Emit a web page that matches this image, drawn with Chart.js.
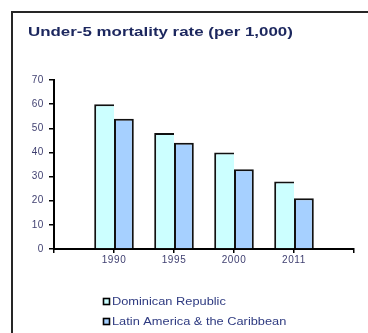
<!DOCTYPE html>
<html>
<head>
<meta charset="utf-8">
<script src="https://cdn.jsdelivr.net/npm/chart.js@4.4.1/dist/chart.umd.min.js"></script>
<style>
  html, body { margin: 0; padding: 0; background: #ffffff; }
  #wrap { width: 368px; height: 333px; position: relative; }
</style>
</head>
<body>
<div id="wrap"><canvas id="chart" width="368" height="333"></canvas></div>
<script>
// Chart text and data
const titleText = 'Under-5 mortality rate (per 1,000)';
const years = ['', '1990', '1995', '2000', '2011', ''];
const seriesNames = ['Dominican Republic', 'Latin America & the Caribbean'];
const dominicanRepublic = [null, 60, 48, 40, 28, null];
const latinAmerica = [null, 54, 44, 33, 21, null];
const yMin = 0;
const yMax = 70;
const yStep = 10;

const FONT = '"Liberation Sans", Arial, Helvetica, sans-serif';

// Frame, title and the stacked legend drawn on the canvas
const decorPlugin = {
  id: 'decor',
  beforeDraw(chart) {
    const ctx = chart.ctx;
    ctx.save();
    ctx.strokeStyle = '#262626';
    ctx.lineWidth = 2;
    ctx.strokeRect(12, 12, 380, 360);
    ctx.restore();
    // slightly wider axis lettering
    ctx.letterSpacing = '0.6px';
  },
  afterDraw(chart) {
    const ctx = chart.ctx;
    ctx.save();
    ctx.letterSpacing = '0px';
    ctx.textBaseline = 'middle';
    ctx.fillStyle = '#1c275e';
    ctx.font = 'bold 13px ' + FONT;
    ctx.translate(28, 32);
    ctx.scale(1.3, 1);
    ctx.fillText(titleText, 0, 0);
    ctx.restore();

    chart.data.datasets.forEach((ds, i) => {
      const y = 302 + i * 20;
      ctx.save();
      ctx.letterSpacing = '0px';
      ctx.fillStyle = ds.backgroundColor;
      ctx.fillRect(103.5, y - 3.5, 6, 6);
      ctx.strokeStyle = '#000000';
      ctx.lineWidth = 1.6;
      ctx.strokeRect(103.5, y - 3.5, 6, 6);
      ctx.fillStyle = '#2e3a80';
      ctx.font = '10px ' + FONT;
      ctx.textBaseline = 'middle';
      ctx.translate(112, y);
      ctx.scale(1.28, 1);
      ctx.fillText(ds.label, 0, 0);
      ctx.restore();
    });
  }
};

const tickFont = { family: FONT, size: 10 };

new Chart(document.getElementById('chart'), {
  type: 'bar',
  data: {
    labels: years,
    datasets: [
      {
        label: seriesNames[0],
        data: dominicanRepublic,
        backgroundColor: '#ccffff',
        borderColor: '#111111',
        borderWidth: { top: 2, left: 2, right: 0, bottom: 0 },
        barPercentage: 1,
        categoryPercentage: 0.66
      },
      {
        label: seriesNames[1],
        data: latinAmerica,
        backgroundColor: '#a6d0ff',
        borderColor: '#111111',
        borderWidth: { top: 2, left: 2, right: 2, bottom: 0 },
        barPercentage: 1,
        categoryPercentage: 0.66
      }
    ]
  },
  options: {
    responsive: false,
    animation: false,
    devicePixelRatio: 1,
    layout: { padding: { top: 80, right: 14, bottom: 64, left: 0 } },
    plugins: {
      legend: { display: false },
      title: { display: false },
      tooltip: { enabled: false }
    },
    scales: {
      x: {
        type: 'category',
        offset: false,
        grid: {
          display: true,
          offset: false,
          drawOnChartArea: false,
          drawTicks: true,
          tickLength: 4,
          color: '#000000',
          lineWidth: 1.5
        },
        border: { display: true, color: '#000000', width: 2 },
        ticks: {
          color: '#3f3f70',
          font: tickFont,
          padding: 1,
          maxRotation: 0,
          autoSkip: false
        },
        afterFit(scale) { scale.height = 20; }
      },
      y: {
        min: yMin,
        max: yMax,
        grid: {
          display: true,
          drawOnChartArea: false,
          drawTicks: true,
          tickLength: 5,
          color: '#000000',
          lineWidth: 1.5
        },
        border: { display: true, color: '#000000', width: 2 },
        ticks: {
          stepSize: yStep,
          color: '#3f3f70',
          font: tickFont,
          padding: 5
        },
        afterFit(scale) { scale.width = 54; }
      }
    }
  },
  plugins: [decorPlugin]
});
</script>
</body>
</html>
